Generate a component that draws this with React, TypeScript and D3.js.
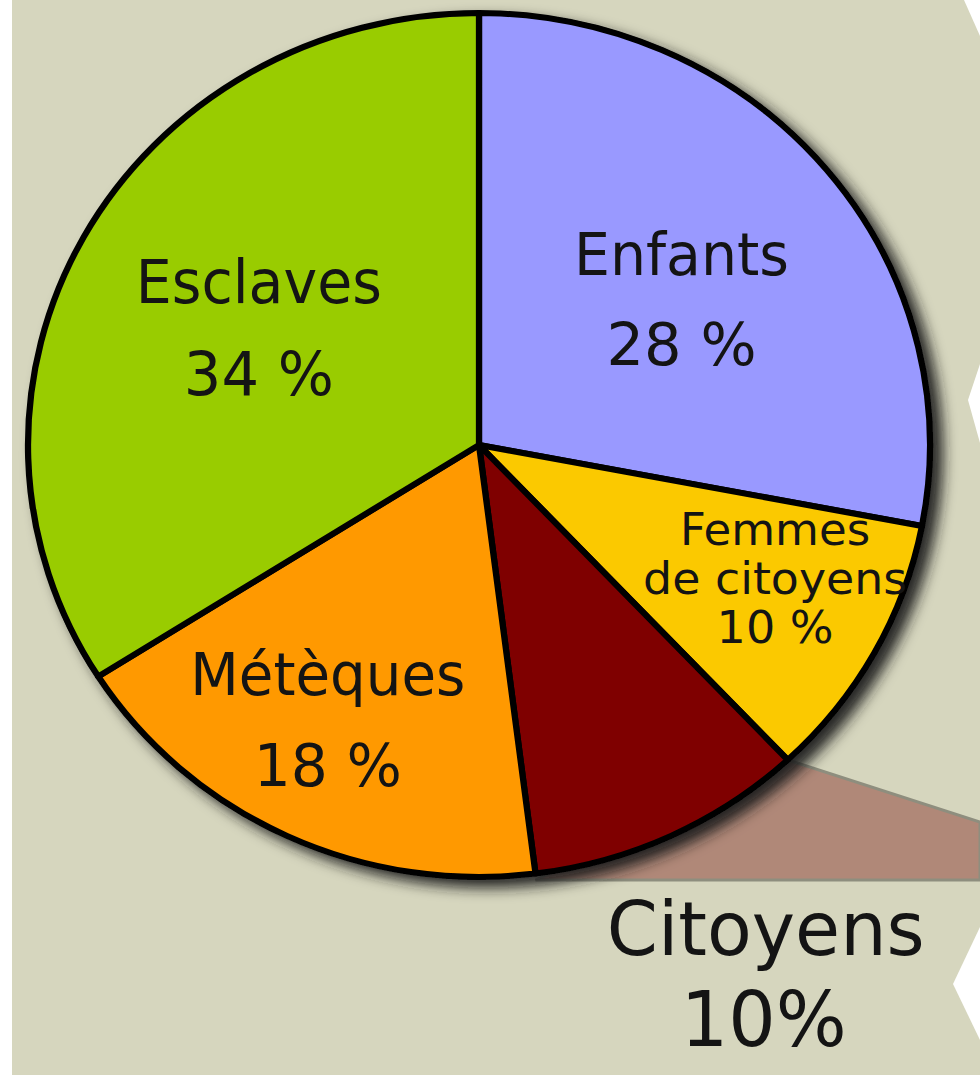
import React, { useEffect, useRef } from "react"
import * as d3 from "d3"

// population of Athens, share of each group (%)
const categories = ["Enfants", "Femmes de citoyens", "Citoyens", "Métèques", "Esclaves"]
const shares = [28, 10, 10, 18, 34]
const sliceColors = ["#9999ff", "#fbc900", "#7f0000", "#ff9900", "#99cc00"]
const sliceLabels = [["Enfants", "28 %"], ["Femmes", "de citoyens", "10 %"], [], ["Métèques", "18 %"], ["Esclaves", "34 %"]]
const calloutLabel = ["Citoyens", "10%"]

// label layout: font size, line gap, nudge from centroid, widths of each line
const labelStyle = [
  { size: 58, gap: 90, dx: -6, dy: -5, widths: [215, 150] },
  { size: 44, gap: 49, dx: 59, dy: -25, widths: [190, 264, 117] },
  { size: 0, gap: 0, dx: 0, dy: 0, widths: [] },
  { size: 58, gap: 91, dx: -36, dy: 15, widths: [275, 148] },
  { size: 60, gap: 92, dx: 17, dy: -17, widths: [246, 150] },
]

export default function App() {
  const ref = useRef<SVGSVGElement>(null)

  useEffect(() => {
    const width = 980,
      height = 1075
    const cx = 479,
      cy = 445,
      radius = 432,
      stretch = 451 / 432 // pie is a little wider than tall

    const svg = d3.select(ref.current).attr("width", width).attr("height", height)
    svg.selectAll("*").remove()

    const defs = svg.append("defs")
    const filter = defs
      .append("filter")
      .attr("id", "pieShadow")
      .attr("x", "-10%")
      .attr("y", "-10%")
      .attr("width", "130%")
      .attr("height", "130%")
    filter
      .append("feDropShadow")
      .attr("dx", 10)
      .attr("dy", 8)
      .attr("stdDeviation", 7)
      .attr("flood-color", "#1a1a1a")
      .attr("flood-opacity", 0.95)

    // paper background with torn white edges
    svg.append("rect").attr("width", width).attr("height", height).attr("fill", "#d6d6be")
    svg.append("rect").attr("width", 12).attr("height", height).attr("fill", "#ffffff")
    const tears = [
      [[964, 0], [980, 0], [980, 36]],
      [[980, 364], [968, 400], [980, 443]],
      [[980, 927], [953, 984], [980, 1040]],
    ]
    svg
      .selectAll("polygon.tear")
      .data(tears)
      .enter()
      .append("polygon")
      .attr("class", "tear")
      .attr("points", d => d.map(p => p.join(",")).join(" "))
      .attr("fill", "#ffffff")

    const pie = d3
      .pie<number>()
      .value(d => d)
      .sort(null)
    const arcs = pie(shares)
    const arc = d3.arc<d3.PieArcDatum<number>>().innerRadius(0).outerRadius(radius)
    const labelArc = d3
      .arc<d3.PieArcDatum<number>>()
      .innerRadius(radius * 0.6)
      .outerRadius(radius * 0.6)

    const rim = (a: number) => [cx + stretch * radius * Math.sin(a), cy - radius * Math.cos(a)]

    // callout band coming out of the Citoyens slice
    const cit = arcs[2]
    const p0 = rim(cit.startAngle)
    const p1 = rim(cit.endAngle)
    const bandBottom = 880
    svg
      .append("polygon")
      .attr(
        "points",
        [p0, [width, 822], [width, bandBottom], [p1[0], bandBottom]].map(p => p.join(",")).join(" ")
      )
      .attr("fill", "#b08878")
      .attr("stroke", "#8e8e7e")
      .attr("stroke-width", 3)

    // the pie
    const g = svg
      .append("g")
      .attr("filter", "url(#pieShadow)")
      .append("g")
      .attr("transform", `translate(${cx},${cy}) scale(${stretch},1)`)
    g.selectAll("path")
      .data(arcs)
      .enter()
      .append("path")
      .attr("d", arc)
      .attr("fill", (d, i) => sliceColors[i])
      .attr("stroke", "#000")
      .attr("stroke-width", 6)
      .attr("stroke-linejoin", "round")

    // labels inside slices
    const labels = svg.append("g").attr("font-family", "'DejaVu Sans', Verdana, sans-serif").attr("fill", "#141414")
    arcs.forEach((d, i) => {
      const lines = sliceLabels[i]
      if (!lines.length) return
      const st = labelStyle[i]
      const c = labelArc.centroid(d)
      const x = cx + c[0] * stretch + st.dx
      const y = cy + c[1] + st.dy
      lines.forEach((line, j) => {
        labels
          .append("text")
          .attr("x", x)
          .attr("y", y + j * st.gap)
          .attr("text-anchor", "middle")
          .attr("font-size", st.size)
          .attr("textLength", st.widths[j])
          .attr("lengthAdjust", "spacingAndGlyphs")
          .text(line)
      })
    })

    // callout text under the band
    const calloutX = (p1[0] + width) / 2 + 8
    labels
      .append("text")
      .attr("x", calloutX)
      .attr("y", 955)
      .attr("text-anchor", "middle")
      .attr("font-size", 74)
      .attr("textLength", 318)
      .attr("lengthAdjust", "spacingAndGlyphs")
      .text(calloutLabel[0])
    labels
      .append("text")
      .attr("x", calloutX - 2)
      .attr("y", 1046)
      .attr("text-anchor", "middle")
      .attr("font-size", 76)
      .attr("textLength", 166)
      .attr("lengthAdjust", "spacingAndGlyphs")
      .text(calloutLabel[1])
  }, [])

  return (
    <svg
      ref={ref}
      style={{ position: "absolute", left: 0, top: 0, display: "block" }}
      aria-label={categories.join(", ")}
    />
  )
}
